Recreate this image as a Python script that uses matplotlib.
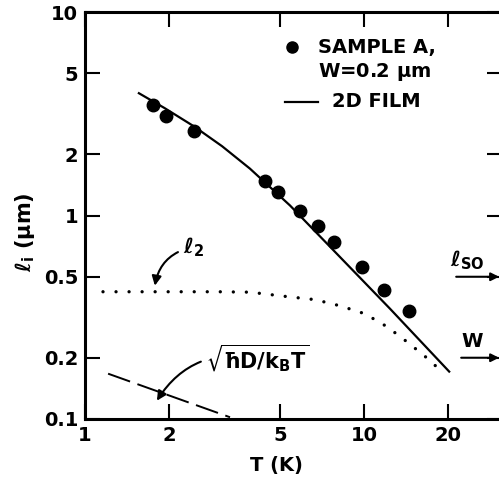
import numpy as np
import matplotlib
matplotlib.use("Agg")
import matplotlib.pyplot as plt

# sample A, W = 0.2 um (dots)
T_data = [1.75, 1.95, 2.46, 4.42, 4.92, 5.90, 6.84, 7.80, 9.84, 11.8, 14.5]
l_data = [3.48, 3.07, 2.59, 1.47, 1.30, 1.05, 0.89, 0.745, 0.56, 0.432, 0.34]

# 2D film theory (solid)
T_film = [1.56, 1.93, 2.46, 3.10, 3.90, 5.43, 7.55, 12.4, 20.2]
l_film = [3.99, 3.37, 2.74, 2.19, 1.70, 1.12, 0.703, 0.348, 0.171]

# l_2 (dotted)
T_l2 = [1.16, 2.0, 3.0, 3.9, 5.34, 6.67, 8.20, 10.07, 12.1, 14.4, 17.0, 18.4]
l_l2 = [0.422, 0.422, 0.422, 0.420, 0.399, 0.386, 0.360, 0.329, 0.284, 0.237, 0.197, 0.178]

# sqrt(hbar D / kB T) (dashed)
T_th = [1.21, 3.31]
l_th = [0.167, 0.102]

x_ticks = [1, 2, 5, 10, 20]
y_ticks = [0.1, 0.2, 0.5, 1, 2, 5, 10]
y_ticklabels = ['0.1', '0.2', '0.5', '1', '2', '5', '10']

l_so = 0.5
W = 0.2

plt.rcParams['font.family'] = 'DejaVu Sans'
plt.rcParams['font.weight'] = 'bold'
plt.rcParams['axes.labelweight'] = 'bold'
plt.rcParams['mathtext.fontset'] = 'dejavusans'
plt.rcParams['mathtext.default'] = 'bf'

fig = plt.figure(figsize=(4.99, 4.80), dpi=100)
ax = fig.add_axes([85/499, 1 - 419/480, 417/499, 407/480])

ax.plot(T_film, l_film, '-', color='black', lw=1.6)
ax.plot(T_data, l_data, 'o', color='black', ms=9)
ax.plot(T_l2, l_l2, color='black', lw=2.4, linestyle=(0, (0.01, 3.9)),
        dash_capstyle='round')
ax.plot(T_th, l_th, color='black', lw=1.4, linestyle=(0, (12, 4)))

ax.set_xscale('log')
ax.set_yscale('log')
ax.set_xlim(1, 10**((502 - 85) / 279))
ax.set_ylim(0.1, 10)
ax.set_xticks(x_ticks)
ax.set_xticklabels([str(t) for t in x_ticks])
ax.set_yticks(y_ticks)
ax.set_yticklabels(y_ticklabels)
ax.minorticks_off()
ax.tick_params(which='major', direction='in', length=11, width=1.5,
               labelsize=14, top=True, right=True, pad=5)
for s in ax.spines.values():
    s.set_linewidth(2.2)

ax.set_xlabel('T (K)', fontsize=14)
ax.xaxis.set_label_coords(0.46, -0.09)
ax.set_ylabel(r'$\ell_i$ ($\mu$m)', fontsize=15)
ax.yaxis.set_label_coords(-0.115, 0.46)

# legend, drawn by hand
ax.plot([0.496], [0.914], 'o', color='black', ms=8, transform=ax.transAxes,
        clip_on=False)
ax.text(0.559, 0.912, 'SAMPLE A,', transform=ax.transAxes, fontsize=14,
        va='center', ha='left')
ax.text(0.559, 0.853, r'W=0.2 $\mu$m', transform=ax.transAxes, fontsize=14,
        va='center', ha='left')
ax.plot([0.480, 0.559], [0.779, 0.779], '-', color='black', lw=1.6,
        transform=ax.transAxes)
ax.text(0.592, 0.779, '2D FILM', transform=ax.transAxes, fontsize=14,
        va='center', ha='left')

# curve labels
ax.annotate(r'$\ell_2$', xy=(1.78, 0.452), xytext=(2.25, 0.70), fontsize=15,
            va='center', ha='left',
            arrowprops=dict(arrowstyle='-|>', color='black', lw=1.5,
                            mutation_scale=14, shrinkA=2, shrinkB=0,
                            connectionstyle='arc3,rad=0.35'))
ax.annotate(r'$\sqrt{\hbar D/k_BT}$', xy=(1.81, 0.123), xytext=(2.72, 0.198),
            fontsize=15, va='center', ha='left',
            arrowprops=dict(arrowstyle='-|>', color='black', lw=1.5,
                            mutation_scale=14, shrinkA=2, shrinkB=0,
                            connectionstyle='arc3,rad=0.35'))

# right side markers
ax.annotate('', xy=(30.5, l_so), xytext=(21.4, l_so),
            arrowprops=dict(arrowstyle='-|>', color='black', lw=1.5,
                            mutation_scale=12, shrinkA=0, shrinkB=0))
ax.text(20.3, 0.60, r'$\ell_{\mathbf{SO}}$', fontsize=15, va='center', ha='left')
ax.annotate('', xy=(30.5, W), xytext=(22.3, W),
            arrowprops=dict(arrowstyle='-|>', color='black', lw=1.5,
                            mutation_scale=12, shrinkA=0, shrinkB=0))
ax.text(22.3, 0.24, 'W', fontsize=14, va='center', ha='left')

fig.savefig('out.png', dpi=100)
